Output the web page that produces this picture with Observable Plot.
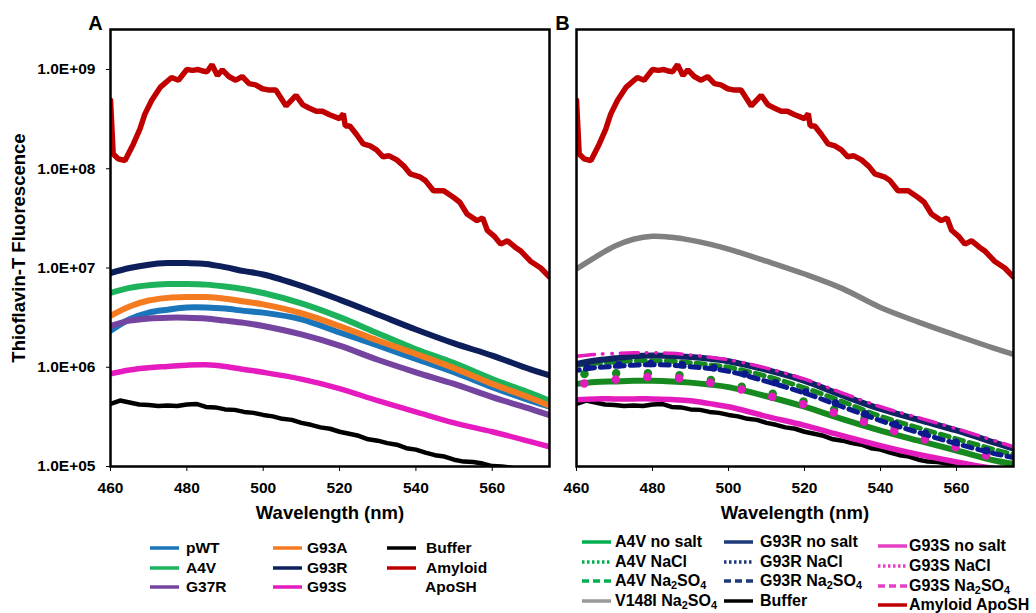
<!DOCTYPE html>
<html><head><meta charset="utf-8">
<script src="https://cdn.jsdelivr.net/npm/d3@7"></script>
<script src="https://cdn.jsdelivr.net/npm/@observablehq/plot@0.6"></script>
<style>
html,body{margin:0;padding:0;background:#fff;}
#wrap{position:relative;width:1036px;height:613px;overflow:hidden;font-family:'Liberation Sans',Arial,sans-serif;font-weight:bold;color:#000;}
.panel{position:absolute;top:0;}
.leg{position:absolute;display:flex;align-items:center;white-space:nowrap;height:20px;line-height:20px;}
.leg svg{flex:none;display:block;}
sub{font-size:0.68em;vertical-align:-0.3em;line-height:0;}
</style></head><body><div id="wrap"></div>
<script>
// ---------- data ----------
const xTicks = [460, 480, 500, 520, 540, 560];
const yTicks = [1e5, 1e6, 1e7, 1e8, 1e9];

// common wavelength grid for the smooth spectra (nm)
const W = [460,465,470,475,480,485,490,495,500,510,520,530,540,550,560,570,575];

// Panel A
const pWT  = [2.33e6,3.04e6,3.55e6,3.8e6,4.0e6,4.0e6,3.9e6,3.7e6,3.55e6,3.04e6,2.24e6,1.66e6,1.21e6,8.9e5,6.3e5,4.6e5,4.0e5];
const A4V  = [5.6e6,6.3e6,6.7e6,6.9e6,6.9e6,6.8e6,6.5e6,6.1e6,5.6e6,4.4e6,3.2e6,2.2e6,1.52e6,1.1e6,7.6e5,5.5e5,4.6e5];
const G37R = [2.6e6,2.95e6,3.1e6,3.16e6,3.16e6,3.1e6,2.95e6,2.8e6,2.6e6,2.14e6,1.65e6,1.19e6,8.9e5,6.8e5,5.0e5,3.8e5,3.3e5];
const G93A = [3.3e6,4.1e6,4.7e6,5.0e6,5.1e6,5.1e6,4.9e6,4.6e6,4.3e6,3.5e6,2.6e6,1.86e6,1.36e6,9.8e5,6.8e5,4.9e5,4.1e5];
const G93R = [8.9e6,1.0e7,1.08e7,1.12e7,1.12e7,1.10e7,1.02e7,9.3e6,8.6e6,6.6e6,4.8e6,3.4e6,2.4e6,1.74e6,1.31e6,9.5e5,8.3e5];
const G93S = [8.6e5,9.4e5,9.9e5,1.02e6,1.05e6,1.06e6,1.02e6,9.5e5,8.9e5,7.6e5,6.1e5,4.6e5,3.55e5,2.75e5,2.24e5,1.78e5,1.58e5];

// Buffer (noisy trace)
const bufferWL = [460,462.5,465,467.5,470,472.5,475,477.5,480,482.5,
                  485,487.5,490,492.5,495,497.5,500,502.5,505,507.5,
                  510,512.5,515,517.5,520,522.5,525,527.5,530,532.5,
                  535,537.5,540,542.5,545,547.5,550,552.5,555,557.5,
                  560,562.5,565,567.5,570,572.5,575];
const buffer   = [4.27e5,4.62e5,4.42e5,4.22e5,4.17e5,4.07e5,4.12e5,4.07e5,4.22e5,4.27e5,
                  3.98e5,3.94e5,3.76e5,3.72e5,3.55e5,3.47e5,3.31e5,3.2e5,3.02e5,2.95e5,
                  2.75e5,2.63e5,2.48e5,2.4e5,2.24e5,2.14e5,2.04e5,1.88e5,1.82e5,1.72e5,
                  1.66e5,1.53e5,1.48e5,1.38e5,1.3e5,1.26e5,1.17e5,1.12e5,1.11e5,1.07e5,
                  1.01e5,1.0e5,0.97e5,0.92e5,0.87e5,0.83e5,0.80e5];

// Amyloid ApoSH (noisy trace)
const amyWL = [460,460.7,462,463.8,466,467.7,469,470.8,473,476,
               477.8,480,481.5,483,484.5,485.3,486.6,488,489.3,491,
               492.8,494.5,496.3,498,499.8,501.6,503.3,506,508.6,510.4,
               512,513.9,515.5,517.4,520,521,521.5,522.7,524.5,526.2,
               528,529.7,531.4,533,535,537,538.5,541,542.5,544.6,
               547.3,550,551.5,553.4,556,557.5,558.7,560.5,562.2,564,
               566,567.5,570,572.7,575];
const amyloid = [4.9e8,1.41e8,1.26e8,1.21e8,1.78e8,2.51e8,3.55e8,4.9e8,6.6e8,8.3e8,
                 7.8e8,1.0e9,9.8e8,1.0e9,9.6e8,9.5e8,1.12e9,8.7e8,9.9e8,8.5e8,
                 7.8e8,8.5e8,7.2e8,7.0e8,6.4e8,6.2e8,6.2e8,4.3e8,5.5e8,4.4e8,
                 4.1e8,3.8e8,3.8e8,3.5e8,3.2e8,3.6e8,2.7e8,2.7e8,2.2e8,1.78e8,
                 1.7e8,1.55e8,1.32e8,1.35e8,1.23e8,1.05e8,8.9e7,8.3e7,7.6e7,6.0e7,
                 6.0e7,5.1e7,4.6e7,3.5e7,3.0e7,3.2e7,2.4e7,2.1e7,1.74e7,1.88e7,
                 1.62e7,1.48e7,1.17e7,1.0e7,8.1e6];

// Panel B
const V148I_Na2SO4 = [9.8e6,1.29e7,1.66e7,1.95e7,2.09e7,2.04e7,1.91e7,1.74e7,1.55e7,1.17e7,8.7e6,6.2e6,4.0e6,2.85e6,2.09e6,1.55e6,1.35e6];
const G93R_noSalt  = [1.08e6,1.17e6,1.23e6,1.29e6,1.31e6,1.30e6,1.27e6,1.22e6,1.15e6,9.4e5,7.3e5,5.2e5,3.8e5,2.95e5,2.31e5,1.74e5,1.51e5];
const G93S_Na2SO4  = [1.29e6,1.35e6,1.38e6,1.40e6,1.40e6,1.38e6,1.33e6,1.26e6,1.19e6,9.8e5,7.6e5,5.5e5,4.0e5,3.1e5,2.4e5,1.82e5,1.58e5];
const A4V_Na2SO4   = [1.05e6,1.10e6,1.13e6,1.16e6,1.16e6,1.15e6,1.11e6,1.06e6,1.0e6,8.1e5,6.2e5,4.5e5,3.2e5,2.45e5,1.9e5,1.48e5,1.32e5];
const G93R_Na2SO4  = [9.3e5,9.9e5,1.02e6,1.05e6,1.06e6,1.05e6,1.01e6,9.7e5,9.1e5,7.2e5,5.5e5,4.0e5,2.9e5,2.2e5,1.7e5,1.35e5,1.23e5];
const G93R_NaCl    = [9.6e5,1.02e6,1.05e6,1.08e6,1.09e6,1.08e6,1.04e6,1.0e6,9.4e5,7.4e5,5.7e5,4.1e5,3.0e5,2.27e5,1.75e5,1.39e5,1.27e5];
const A4V_NaCl     = [8.5e5,8.6e5,8.7e5,8.7e5,8.7e5,8.5e5,8.0e5,7.5e5,6.8e5,5.6e5,4.5e5,3.55e5,2.7e5,2.1e5,1.66e5,1.32e5,1.17e5];
const G93S_NaCl    = [6.6e5,7.2e5,7.5e5,7.8e5,8.0e5,7.9e5,7.5e5,7.0e5,6.4e5,5.2e5,4.2e5,3.3e5,2.5e5,1.95e5,1.55e5,1.23e5,1.1e5];
const A4V_noSalt   = [6.8e5,7.1e5,7.2e5,7.3e5,7.3e5,7.2e5,7.0e5,6.7e5,6.3e5,5.1e5,4.0e5,3.0e5,2.3e5,1.82e5,1.45e5,1.15e5,1.06e5];
const G93S_noSalt  = [4.7e5,4.8e5,4.8e5,4.8e5,4.8e5,4.73e5,4.6e5,4.3e5,4.0e5,3.2e5,2.6e5,2.04e5,1.62e5,1.32e5,1.11e5,9.5e4,9.1e4];

// legend labels
const legendA = [["pWT","A4V","G37R"],["G93A","G93R","G93S"],["Buffer","Amyloid"]];
const legendB = [
  ["A4V no salt","A4V NaCl","A4V Na<sub>2</sub>SO<sub>4</sub>","V148I Na<sub>2</sub>SO<sub>4</sub>"],
  ["G93R no salt","G93R NaCl","G93R Na<sub>2</sub>SO<sub>4</sub>","Buffer"],
  ["G93S no salt","G93S NaCl","G93S Na<sub>2</sub>SO<sub>4</sub>","Amyloid ApoSH"]
];

// ---------- styling ----------
const C = {
  pWT:"#1b75bb", A4V:"#1db35c", G37R:"#7544a0", G93A:"#f47b20", G93R:"#0c1f5b",
  G93S:"#e51bbf", buf:"#000000", amy:"#c00000", gray:"#808080",
  bGreen:"#16891f", bNavy:"#0f2463", bNavy2:"#0b1a8c", bMag:"#e31cbd"
};
const zip = (xs, ys) => xs.map((x, i) => ({x, y: ys[i]}));
const yDomain = [1e5, 2.53e9];
const fmt = d => "1.0E+" + String(Math.round(Math.log10(d))).padStart(2, "0");
const font = "'Liberation Sans', Arial, sans-serif";
const baseStyle = {fontFamily: font, fontWeight: "bold", fontSize: "15.5px", color: "#000", background: "transparent", overflow: "visible"};

function L(xs, ys, stroke, opts = {}) {
  return Plot.line(zip(xs, ys), {x: "x", y: "y", stroke, strokeWidth: 5, curve: "catmull-rom", clip: true, ...opts});
}
const label = (t, o) => Plot.text([t], {text: d => d, fontWeight: "bold", ...o});

const plotA = Plot.plot({
  width: 560, height: 530, marginLeft: 110, marginRight: 11, marginTop: 29, marginBottom: 64,
  style: baseStyle,
  x: {domain: [460, 575], ticks: xTicks, tickSize: 5, tickPadding: 10, label: null},
  y: {type: "log", domain: yDomain, ticks: yTicks, tickFormat: fmt, tickSize: 4, tickPadding: 11, label: null},
  marks: [
    L(W, pWT, C.pWT, {strokeWidth: 6}),
    L(W, G37R, C.G37R, {strokeWidth: 6}),
    L(W, A4V, C.A4V, {strokeWidth: 6}),
    L(W, G93A, C.G93A, {strokeWidth: 6}),
    L(W, G93R, C.G93R, {strokeWidth: 6}),
    L(W, G93S, C.G93S, {strokeWidth: 5.5}),
    L(bufferWL, buffer, C.buf, {strokeWidth: 4.5, curve: "linear"}),
    L(amyWL, amyloid, C.amy, {strokeWidth: 5.5, curve: "linear", strokeLinejoin: "miter"}),
    Plot.frame({stroke: "#000", strokeWidth: 2.5}),
    label("Wavelength (nm)", {frameAnchor: "bottom", dy: 47, lineAnchor: "middle", fontSize: 18.5}),
    label("Thioflavin-T Fluorescence", {frameAnchor: "left", rotate: -90, dx: -91, lineAnchor: "middle", textAnchor: "middle", fontSize: 18.5}),
    label("A", {frameAnchor: "top-left", dx: -15, dy: -6, lineAnchor: "middle", textAnchor: "middle", fontSize: 20})
  ]
});

const bigDots = {strokeWidth: 8.5, strokeDasharray: "0 31.7", strokeLinecap: "round"};
const plotB = Plot.plot({
  width: 486, height: 530, marginLeft: 26, marginRight: 23, marginTop: 29, marginBottom: 64,
  style: baseStyle,
  x: {domain: [460, 575], ticks: xTicks, tickSize: 5, tickPadding: 10, label: null},
  y: {type: "log", domain: yDomain, axis: null},
  marks: [
    L(bufferWL, buffer, C.buf, {strokeWidth: 4.5, curve: "linear"}),
    L(W, G93S_noSalt, C.bMag, {strokeWidth: 5.5}),
    L(W, A4V_noSalt, C.bGreen, {strokeWidth: 6}),
    L(W, A4V_NaCl, C.bGreen, {...bigDots, strokeDashoffset: 23.7}),
    L(W, G93S_NaCl, C.bMag, {...bigDots, strokeDashoffset: 23.7}),
    L(W, A4V_Na2SO4, C.bGreen, {strokeWidth: 5, strokeDasharray: "9 6"}),
    L(W, G93R_NaCl, C.bNavy2, {...bigDots, strokeWidth: 7.5, strokeDashoffset: 20.7}),
    L(W, G93R_Na2SO4, C.bNavy2, {strokeWidth: 5, strokeDasharray: "9 6", strokeDashoffset: 6}),
    L(W, G93R_noSalt, C.bNavy, {strokeWidth: 6}),
    L(W, G93S_Na2SO4, C.bMag, {strokeWidth: 3.5, strokeDasharray: "18 8 0.5 9 0.5 8", strokeLinecap: "round"}),
    L(W, V148I_Na2SO4, C.gray, {strokeWidth: 5.5}),
    L(amyWL, amyloid, C.amy, {strokeWidth: 5.5, curve: "linear", strokeLinejoin: "miter"}),
    Plot.frame({stroke: "#000", strokeWidth: 2.5}),
    label("Wavelength (nm)", {frameAnchor: "bottom", dy: 47, lineAnchor: "middle", fontSize: 18.5}),
    label("B", {frameAnchor: "top-left", dx: -14, dy: -6, lineAnchor: "middle", textAnchor: "middle", fontSize: 20})
  ]
});

const wrap = document.getElementById("wrap");
const pa = document.createElement("div"); pa.className = "panel"; pa.style.left = "0px"; pa.append(plotA);
const pb = document.createElement("div"); pb.className = "panel"; pb.style.left = "550px"; pb.append(plotB);
wrap.append(pa, pb);

// ---------- legends ----------
function legItem(x, y, gap, html, stroke, dash, size) {
  const d = document.createElement("div");
  d.className = "leg";
  d.style.left = x + "px"; d.style.top = (y - 10) + "px"; d.style.fontSize = size + "px";
  if (stroke) {
    d.innerHTML = `<svg width="29" height="20"><line x1="0" x2="29" y1="10" y2="10" stroke="${stroke}" stroke-width="3.5" ${dash ? `stroke-dasharray="${dash}"` : ""}/></svg>`;
  }
  const s = document.createElement("span");
  s.innerHTML = html;
  if (stroke) s.style.marginLeft = gap + "px";
  d.append(s);
  wrap.append(d);
}
// Legend A
const colA = [150, 273, 387], gapA = [7, 5, 10], rowA = [548, 567.5, 587];
const swA = [[C.pWT, C.A4V, C.G37R], [C.G93A, C.G93R, C.G93S], [C.buf, C.amy]];
legendA.forEach((col, ci) => col.forEach((t, ri) => legItem(colA[ci], rowA[ri], gapA[ci], t, swA[ci][ri], null, 15.5)));
legItem(425, rowA[2], 0, "ApoSH", null, null, 15.5);

// Legend B
const colB = [582, 724, 878], gapB = [4, 7, 2];
const rowB = [[542, 561.5, 581, 601], [542, 561.5, 581, 601], [546, 566, 586, 605]];
const lg = "#00b050", ln = "#1f3a78", lm = "#e63fc6";
const swB = [[lg, lg, lg, "#999999"], [ln, ln, ln, "#000"], [lm, lm, lm, C.amy]];
const dashB = [null, "2.5 2.5", "7 4", null];
legendB.forEach((col, ci) => col.forEach((t, ri) => legItem(colB[ci], rowB[ci][ri], gapB[ci], t, swB[ci][ri], dashB[ri], 16)));
</script></body></html>
